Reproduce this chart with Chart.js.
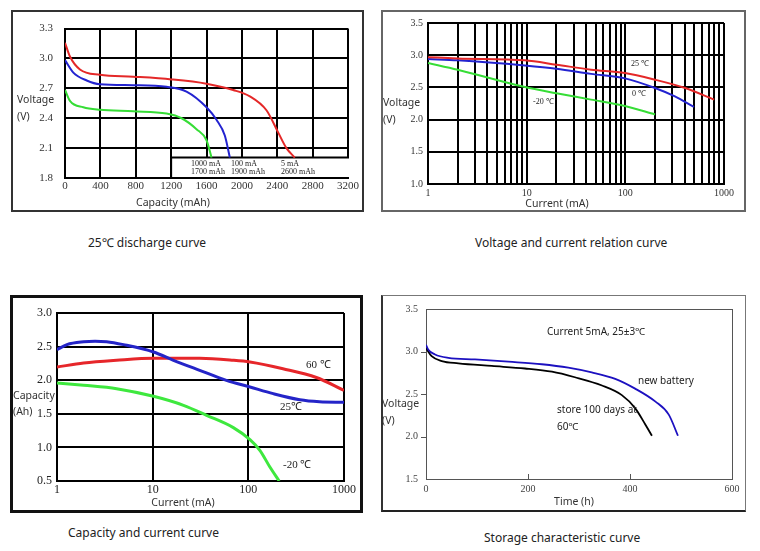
<!DOCTYPE html>
<html><head><meta charset="utf-8">
<script src="https://cdn.jsdelivr.net/npm/chart.js@4.4.1/dist/chart.umd.min.js"></script>
<style>
html,body{margin:0;padding:0;background:#fff;}
body{width:760px;height:551px;position:relative;overflow:hidden;font-family:"Noto Sans",sans-serif;}
.frame{position:absolute;box-sizing:border-box;}
canvas{position:absolute;}
.title{position:absolute;font-size:12px;color:#222;white-space:nowrap;line-height:14px;}
</style></head><body>
<div class="frame" style="left:11px;top:10px;width:353px;height:202px;border:2px solid #333"></div>
<div class="frame" style="left:381px;top:10px;width:365px;height:202px;border:2px solid #666"></div>
<div class="frame" style="left:10px;top:295px;width:353px;height:218px;border:3px solid #111"></div>
<div class="frame" style="left:381px;top:295px;width:365px;height:217px;border:1px solid #777;border-left:2px solid #333;border-bottom:2px solid #222"></div>
<canvas id="c1" width="353" height="202" style="left:11px;top:10px;width:353px;height:202px"></canvas>
<canvas id="c2" width="365" height="202" style="left:381px;top:10px;width:365px;height:202px"></canvas>
<canvas id="c3" width="353" height="218" style="left:10px;top:295px;width:353px;height:218px"></canvas>
<canvas id="c4" width="365" height="217" style="left:381px;top:295px;width:365px;height:217px"></canvas>
<div class="title" style="left:88px;top:236px">25℃ discharge curve</div>
<div class="title" style="left:475px;top:236px">Voltage and current relation curve</div>
<div class="title" style="left:68px;top:526px">Capacity and current curve</div>
<div class="title" style="left:484px;top:531px">Storage characteristic curve</div>
<script>
// ---------- Chart 1: 25℃ discharge curve ----------
const C1_X_TICKS = [0, 400, 800, 1200, 1600, 2000, 2400, 2800, 3200];
const C1_Y_TICKS = [1.8, 2.1, 2.4, 2.7, 3.0, 3.3];
const C1_5MA_CAP = [0, 56, 169, 395, 772, 1205, 1600, 1901, 2090, 2278, 2410, 2504, 2598];
const C1_5MA_V   = [3.158, 3.02, 2.89, 2.836, 2.817, 2.79, 2.747, 2.684, 2.62, 2.48, 2.258, 2.1, 2.005];
const C1_100MA_CAP = [0, 94, 245, 395, 772, 1148, 1374, 1600, 1713, 1807, 1864];
const C1_100MA_V   = [2.984, 2.858, 2.779, 2.741, 2.732, 2.716, 2.668, 2.51, 2.384, 2.226, 2.005];
const C1_1000MA_CAP = [0, 56, 207, 395, 772, 1148, 1318, 1487, 1600, 1657];
const C1_1000MA_V   = [2.684, 2.574, 2.51, 2.485, 2.47, 2.447, 2.4, 2.29, 2.179, 2.005];

// ---------- Chart 2: Voltage and current relation ----------
const C2_X_LABELS = [1, 10, 100, 1000];
const C2_Y_TICKS = [1.0, 1.5, 2.0, 2.5, 3.0, 3.5];
const C2_25C_I = [1, 2, 9.6, 20, 45, 99, 200, 404, 794];
const C2_25C_V = [2.97, 2.95, 2.92, 2.853, 2.775, 2.724, 2.62, 2.49, 2.31];
const C2_0C_I = [1, 2, 9.6, 20, 45, 99, 200, 318, 496];
const C2_0C_V = [2.94, 2.92, 2.84, 2.79, 2.71, 2.64, 2.49, 2.36, 2.196];
const C2_M20C_I = [1, 2, 9.6, 20, 45, 99, 200];
const C2_M20C_V = [2.88, 2.775, 2.506, 2.41, 2.31, 2.21, 2.08];

// ---------- Chart 3: Capacity and current ----------
const C3_X_TICKS = [1, 10, 100, 1000];
const C3_Y_TICKS = [0.5, 1.0, 1.5, 2.0, 2.5, 3.0];
const C3_25C_I = [1, 1.27, 1.9, 2.5, 3.3, 4.96, 10.2, 16.5, 31, 59, 104, 182, 345, 555, 1000];
const C3_25C_C = [2.454, 2.53, 2.572, 2.58, 2.573, 2.529, 2.42, 2.296, 2.147, 1.998, 1.899, 1.8, 1.71, 1.68, 1.672];
const C3_60C_I = [1, 1.9, 4.2, 10.2, 31, 69.7, 104, 230, 514, 1000];
const C3_60C_C = [2.196, 2.256, 2.296, 2.325, 2.325, 2.296, 2.27, 2.17, 2.04, 1.85];
const C3_M20C_I = [1, 1.9, 4.2, 10.2, 21, 36.6, 69.7, 104, 132, 168, 210];
const C3_M20C_C = [1.958, 1.924, 1.874, 1.76, 1.626, 1.477, 1.294, 1.115, 0.956, 0.708, 0.5];

// ---------- Chart 4: Storage characteristic ----------
const C4_X_TICKS = [0, 200, 400, 600];
const C4_Y_TICKS = [1.5, 2.0, 2.5, 3.0, 3.5];
const C4_NEW_T = [0, 4.6, 17.7, 43.8, 96, 161.6, 227, 279, 325, 371, 410, 450, 476, 494];
const C4_NEW_V = [3.079, 3.02, 2.965, 2.926, 2.907, 2.88, 2.85, 2.81, 2.754, 2.678, 2.563, 2.41, 2.257, 2.009];
const C4_STORED_T = [0, 11, 30.8, 63.5, 129, 194, 247, 292, 345, 384, 410, 430, 443];
const C4_STORED_V = [3.04, 2.945, 2.888, 2.861, 2.83, 2.8, 2.762, 2.697, 2.6, 2.487, 2.334, 2.142, 2.009];

const zip = (xs, ys) => xs.map((x, i) => ({x: x, y: ys[i]}));
const SANS = '"Noto Sans", sans-serif';
const SERIF = '"Liberation Serif", serif';

Chart.defaults.font.family = SERIF;
Chart.defaults.animation = false;

const overlay = {
  id: 'overlay',
  afterDraw(chart, args, opts) {
    const ctx = chart.ctx;
    (opts.texts || []).forEach(t => {
      ctx.save();
      ctx.font = t.font;
      ctx.fillStyle = t.color || '#222';
      ctx.textAlign = t.align || 'left';
      ctx.textBaseline = 'middle';
      ctx.fillText(t.text, t.x, t.y);
      ctx.restore();
    });
  }
};
Chart.register(overlay);

function line(data, color, width) {
  return {data: data, borderColor: color, borderWidth: width, pointRadius: 0,
          fill: false, cubicInterpolationMode: 'monotone', tension: 0.4};
}

function build(id, g, datasets, xOpt, yOpt, texts, plugins) {
  const xs = Object.assign({
    afterFit: s => { s.height = g.H - g.bottom; }
  }, xOpt);
  const ys = Object.assign({
    afterFit: s => { s.width = g.left; }
  }, yOpt);
  return new Chart(document.getElementById(id), {
    type: 'line',
    data: {datasets: datasets},
    options: {
      responsive: false, devicePixelRatio: 1, animation: false,
      parsing: false,
      layout: {padding: {left: 0, top: g.top, right: g.W - g.right, bottom: 0}},
      plugins: {legend: {display: false}, tooltip: {enabled: false}, overlay: {texts: texts}},
      scales: {x: xs, y: ys}
    },
    plugins: plugins || []
  });
}

function fixedTicks(arr) { return s => { s.ticks = arr.map(v => ({value: v})); }; }

// Chart 1
const c1Box = {
  id: 'c1box',
  beforeDatasetsDraw(chart) {
    const x = chart.scales.x, y = chart.scales.y, ctx = chart.ctx;
    const l = x.getPixelForValue(1200), r = x.getPixelForValue(3200);
    const t = y.getPixelForValue(2.005), b = y.getPixelForValue(1.8);
    ctx.save();
    ctx.fillStyle = '#fff';
    ctx.fillRect(l, t, r - l + 2, b - t - 1);
    ctx.strokeStyle = '#000'; ctx.lineWidth = 2;
    ctx.beginPath(); ctx.moveTo(l, b); ctx.lineTo(l, t); ctx.lineTo(r + 1, t); ctx.stroke();
    ctx.restore();
  }
};
const grid2 = {color: '#000', lineWidth: 2, drawTicks: false};
const border2 = {color: '#000', width: 2};
build('c1', {W: 353, H: 202, left: 54, top: 10, right: 337, bottom: 168}, [
  line(zip(C1_5MA_CAP, C1_5MA_V), '#e42828', 2),
  line(zip(C1_100MA_CAP, C1_100MA_V), '#2323d0', 2),
  line(zip(C1_1000MA_CAP, C1_1000MA_V), '#36dd36', 2)
], {
  type: 'linear', min: 0, max: 3200, grid: grid2, border: border2,
  afterBuildTicks: fixedTicks(C1_X_TICKS),
  ticks: {autoSkip: false, maxRotation: 0, padding: 2, color: '#333', font: {family: SERIF, size: 11}, callback: v => String(v)}
}, {
  type: 'linear', min: 1.8, max: 3.3, grid: grid2, border: border2,
  afterBuildTicks: fixedTicks(C1_Y_TICKS),
  ticks: {autoSkip: false, padding: 12, color: '#333', font: {family: SERIF, size: 11}, callback: v => v.toFixed(1)}
}, [
  {text: 'Voltage', x: 6, y: 90, font: '10.5px ' + SANS, color: '#333'},
  {text: '(V)', x: 6, y: 107, font: '10.5px ' + SANS, color: '#333'},
  {text: 'Capacity (mAh)', x: 162, y: 193, font: '10.5px ' + SANS, color: '#333', align: 'center'},
  {text: '1000 mA', x: 180, y: 154, font: '8px ' + SERIF, color: '#222'},
  {text: '1700 mAh', x: 180, y: 162, font: '8px ' + SERIF, color: '#222'},
  {text: '100 mA', x: 220, y: 154, font: '8px ' + SERIF, color: '#222'},
  {text: '1900 mAh', x: 220, y: 162, font: '8px ' + SERIF, color: '#222'},
  {text: '5 mA', x: 270, y: 154, font: '8px ' + SERIF, color: '#222'},
  {text: '2600 mAh', x: 270, y: 162, font: '8px ' + SERIF, color: '#222'}
], [c1Box]);

// Chart 2
const C2_GRID = [];
C2_X_LABELS.slice(0, 3).forEach(d => { for (let m = 1; m <= 9; m++) C2_GRID.push(d * m); });
C2_GRID.push(1000);
build('c2', {W: 365, H: 202, left: 47, top: 13, right: 343, bottom: 174}, [
  line(zip(C2_25C_I, C2_25C_V), '#e42828', 2),
  line(zip(C2_0C_I, C2_0C_V), '#2323d0', 2),
  line(zip(C2_M20C_I, C2_M20C_V), '#36dd36', 2)
], {
  type: 'logarithmic', min: 1, max: 1000, grid: grid2, border: border2,
  afterBuildTicks: fixedTicks(C2_GRID),
  ticks: {autoSkip: false, maxRotation: 0, padding: 3, color: '#333', font: {family: SERIF, size: 10},
          callback: v => C2_X_LABELS.indexOf(v) >= 0 ? String(v) : ''}
}, {
  type: 'linear', min: 1.0, max: 3.5, grid: grid2, border: border2,
  afterBuildTicks: fixedTicks(C2_Y_TICKS),
  ticks: {autoSkip: false, padding: 5, color: '#333', font: {family: SERIF, size: 10}, callback: v => v.toFixed(1)}
}, [
  {text: 'Voltage', x: 2, y: 93, font: '10.5px ' + SANS, color: '#333'},
  {text: '(V)', x: 2, y: 110, font: '10.5px ' + SANS, color: '#333'},
  {text: 'Current (mA)', x: 176, y: 194, font: '10.5px ' + SANS, color: '#333', align: 'center'},
  {text: '25 ℃', x: 250, y: 54, font: '8px ' + SERIF, color: '#222'},
  {text: '0 ℃', x: 251, y: 84, font: '8px ' + SERIF, color: '#222'},
  {text: '-20 ℃', x: 152, y: 92, font: '8px ' + SERIF, color: '#222'}
]);

// Chart 3
build('c3', {W: 353, H: 218, left: 47, top: 18, right: 334, bottom: 186}, [
  line(zip(C3_25C_I, C3_25C_C), '#2424c8', 3),
  line(zip(C3_60C_I, C3_60C_C), '#e6262a', 3),
  line(zip(C3_M20C_I, C3_M20C_C), '#3ee83e', 3)
], {
  type: 'logarithmic', min: 1, max: 1000, grid: grid2, border: border2,
  afterBuildTicks: fixedTicks(C3_X_TICKS),
  ticks: {autoSkip: false, maxRotation: 0, padding: 2, color: '#222', font: {family: SERIF, size: 12}, callback: v => String(v)}
}, {
  type: 'linear', min: 0.5, max: 3.0, grid: grid2, border: border2,
  afterBuildTicks: fixedTicks(C3_Y_TICKS),
  ticks: {autoSkip: false, padding: 5, color: '#222', font: {family: SERIF, size: 12}, callback: v => v.toFixed(1)}
}, [
  {text: 'Capacity', x: 3, y: 101, font: '10.5px ' + SANS, color: '#333'},
  {text: '(Ah)', x: 3, y: 117, font: '10.5px ' + SANS, color: '#333'},
  {text: 'Current (mA)', x: 173, y: 208, font: '10.5px ' + SANS, color: '#333', align: 'center'},
  {text: '60 ℃', x: 296, y: 70, font: '11px ' + SERIF, color: '#222'},
  {text: '25℃', x: 270, y: 112, font: '11px ' + SERIF, color: '#222'},
  {text: '-20 ℃', x: 273, y: 170, font: '11px ' + SERIF, color: '#222'}
]);

// Chart 4
const c4Box = {
  id: 'c4box',
  beforeDatasetsDraw(chart) {
    const a = chart.chartArea, ctx = chart.ctx, x = chart.scales.x, y = chart.scales.y;
    ctx.save();
    ctx.strokeStyle = '#555'; ctx.lineWidth = 1;
    ctx.strokeRect(Math.round(a.left) + 0.5, Math.round(a.top) + 0.5, Math.round(a.right - a.left), Math.round(a.bottom - a.top));
    ctx.beginPath();
    C4_X_TICKS.slice(1, -1).forEach(v => {
      const px = Math.round(x.getPixelForValue(v)) + 0.5;
      ctx.moveTo(px, a.bottom); ctx.lineTo(px, a.bottom - 5);
    });
    C4_Y_TICKS.slice(1, -1).forEach(v => {
      const py = Math.round(y.getPixelForValue(v)) + 0.5;
      ctx.moveTo(a.left, py); ctx.lineTo(a.left - 5, py);
    });
    ctx.stroke();
    ctx.restore();
  }
};
const noGrid = {display: false, drawTicks: false};
build('c4', {W: 365, H: 217, left: 45, top: 11, right: 351, bottom: 184}, [
  line(zip(C4_NEW_T, C4_NEW_V), '#1c10c0', 1.8),
  line(zip(C4_STORED_T, C4_STORED_V), '#000000', 1.8)
], {
  type: 'linear', min: 0, max: 600, grid: noGrid, border: {display: false},
  afterBuildTicks: fixedTicks(C4_X_TICKS),
  ticks: {autoSkip: false, maxRotation: 0, padding: 4, color: '#444', font: {family: SERIF, size: 10}, callback: v => String(v)}
}, {
  type: 'linear', min: 1.5, max: 3.5, grid: noGrid, border: {display: false},
  afterBuildTicks: fixedTicks(C4_Y_TICKS),
  ticks: {autoSkip: false, padding: 8, color: '#444', font: {family: SERIF, size: 10}, callback: v => v.toFixed(1)}
}, [
  {text: 'Voltage', x: 1, y: 109, font: '10.5px ' + SANS, color: '#333'},
  {text: '(V)', x: 1, y: 126, font: '10.5px ' + SANS, color: '#333'},
  {text: 'Time (h)', x: 193, y: 207, font: '10.5px ' + SANS, color: '#333', align: 'center'},
  {text: 'Current 5mA, 25±3℃', x: 166, y: 37, font: '10px ' + SANS, color: '#222'},
  {text: 'new battery', x: 257, y: 86, font: '10px ' + SANS, color: '#222'},
  {text: 'store 100 days at', x: 176, y: 115, font: '10px ' + SANS, color: '#222'},
  {text: '60℃', x: 176, y: 132, font: '10px ' + SANS, color: '#222'}
], [c4Box]);
</script>
</body></html>
